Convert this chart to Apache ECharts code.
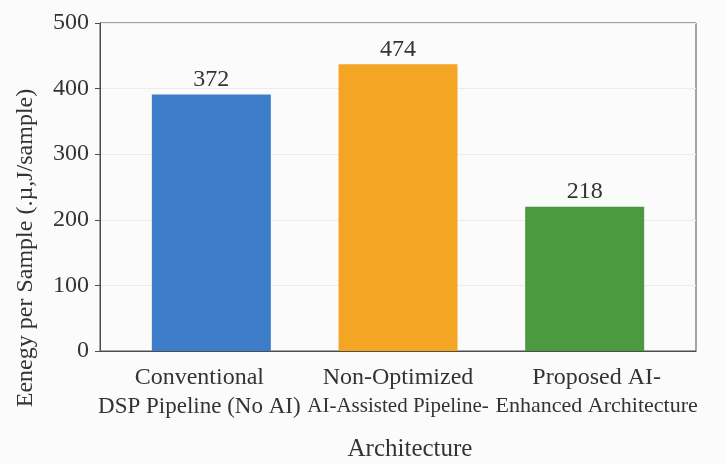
<!DOCTYPE html>
<html>
<head>
<meta charset="utf-8">
<script src="https://cdn.jsdelivr.net/npm/echarts@6/dist/echarts.min.js"></script>
<style>
html,body{margin:0;padding:0;background:#fbfbfb;}
#chart{width:726px;height:464px;}
</style>
</head>
<body>
<div id="chart"></div>
<script>
// ---- data ----
const categories = ['Conventional\nDSP Pipeline (No AI)', 'Non-Optimized\nAI-Assisted Pipeline-', 'Proposed AI-\nEnhanced Architecture'];
const barHeights = [391, 437, 220];          // bar tops as drawn
const valueLabels = ['372', '474', '218'];   // numbers printed above bars
const barColors = ['#3d7cc9', '#f5a524', '#4c9a3f'];
const yTicks = [0, 100, 200, 300, 400, 500];
const xTitle = 'Architecture';
const yTitle = 'Eenegy per Sample (.µ,J/sample)';

const FONT = '"Liberation Serif", "Times New Roman", serif';
const chart = echarts.init(document.getElementById('chart'), null, {renderer: 'canvas'});

const secondSizes = [23, 21, 22];
const rich = {t: {fontSize: 24, lineHeight: 29, fontFamily: FONT, color: '#333'}};
secondSizes.forEach((s, i) => { rich['b' + i] = {fontSize: s, lineHeight: 29, fontFamily: FONT, color: '#333'}; });

chart.setOption({
  backgroundColor: '#fbfbfb',
  animation: false,
  grid: [
    {left: 100, right: 30, top: 23, bottom: 113, show: true, borderColor: '#4d4d4d', borderWidth: 1, backgroundColor: 'transparent', outerBoundsMode: 'none'},
    {left: 118, right: 48, top: 23, bottom: 113, outerBoundsMode: 'none'}
  ],
  xAxis: [
    {
      type: 'category', gridIndex: 0, data: categories,
      axisLine: {show: true, lineStyle: {color: '#4d4d4d', width: 1}},
      axisTick: {show: false},
      axisLabel: {
        margin: 12, interval: 0,
        formatter: function (v, idx) {
          const parts = v.split('\n');
          return '{t|' + parts[0] + '}\n{b' + idx + '|' + parts[1] + '}';
        },
        rich: rich
      },
      name: xTitle, nameLocation: 'middle', nameGap: 86,
      nameTextStyle: {fontFamily: FONT, fontSize: 25, color: '#333', padding: [0, 0, 0, 24]}
    },
    {type: 'category', gridIndex: 1, data: categories, show: false}
  ],
  yAxis: [
    {
      type: 'value', gridIndex: 0, min: yTicks[0], max: yTicks[yTicks.length - 1], interval: 100,
      axisLine: {show: true, lineStyle: {color: '#4d4d4d', width: 1}},
      axisTick: {show: true, length: 5, lineStyle: {color: '#4d4d4d'}},
      splitLine: {show: true, lineStyle: {color: '#ececec', width: 1}},
      axisLabel: {margin: 11, fontFamily: FONT, fontSize: 24, color: '#333'},
      name: yTitle, nameLocation: 'middle', nameGap: 62, nameRotate: 90,
      nameTextStyle: {fontFamily: FONT, fontSize: 24, color: '#333', padding: [0, 122, 0, 0]}
    },
    {type: 'value', gridIndex: 1, min: yTicks[0], max: yTicks[yTicks.length - 1], show: false}
  ],
  series: [{
    type: 'bar', xAxisIndex: 1, yAxisIndex: 1,
    barWidth: 119,
    data: barHeights.map((v, i) => ({value: v, itemStyle: {color: barColors[i]}})),
    label: {
      show: true, position: 'top', distance: 3,
      formatter: p => valueLabels[p.dataIndex],
      fontFamily: FONT, fontSize: 24, color: '#333'
    }
  }]
});
</script>
</body>
</html>
